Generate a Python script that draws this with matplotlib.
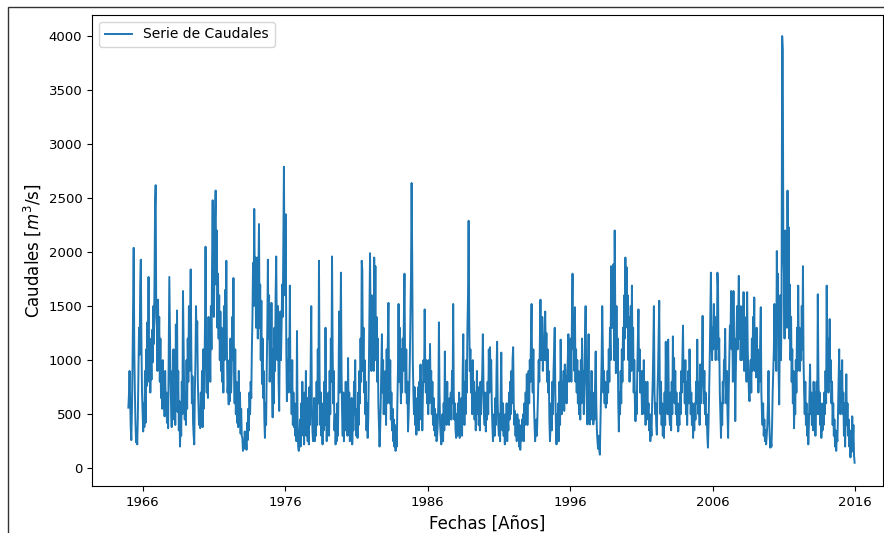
import numpy as np
import matplotlib
matplotlib.use("Agg")
import matplotlib.pyplot as plt
from matplotlib.patches import Rectangle

# Semi-monthly flow values (m3/s), one row per year
start_year = 1965
samples_per_year = 24

q_1965_1974 = [
    [560, 680, 900, 620, 380, 260, 520, 940, 1530, 2040, 1100, 700, 420, 240, 300, 220, 480, 900, 1300, 1050, 1700, 1930, 1200, 700],
    [520, 340, 600, 380, 900, 420, 1100, 760, 1350, 1000, 1770, 800, 1200, 700, 1050, 820, 1280, 980, 1500, 1150, 1700, 2430, 2620, 1400],
    [1300, 900, 1560, 1100, 1400, 800, 1200, 650, 900, 550, 1000, 620, 780, 480, 900, 560, 700, 420, 620, 370, 1100, 1770, 1300, 800],
    [600, 380, 900, 450, 1100, 600, 820, 400, 1330, 700, 1460, 520, 900, 350, 620, 200, 480, 300, 800, 500, 1640, 1200, 700, 450],
    [700, 400, 1000, 550, 1200, 800, 1500, 900, 1400, 1840, 1100, 600, 850, 420, 300, 220, 700, 1000, 1500, 1100, 1360, 800, 600, 400],
    [450, 370, 700, 420, 900, 380, 1100, 550, 800, 1300, 2050, 1200, 700, 1000, 650, 1400, 900, 1250, 800, 1500, 1100, 1900, 2480, 1600],
    [1400, 1800, 2300, 2570, 1700, 2200, 1300, 1800, 1200, 1600, 1000, 1450, 900, 1300, 800, 1200, 700, 1500, 1000, 1650, 1200, 1920, 1100, 700],
    [800, 590, 1000, 620, 1200, 700, 900, 1400, 1000, 1760, 900, 600, 1100, 500, 800, 420, 650, 380, 900, 450, 700, 320, 550, 300],
    [280, 160, 250, 180, 340, 200, 300, 170, 420, 260, 550, 350, 700, 500, 800, 650, 1100, 1400, 1900, 1500, 2400, 1700, 1950, 1300],
    [1500, 1950, 1200, 1800, 2260, 1300, 1700, 1000, 1550, 780, 1200, 650, 900, 450, 280, 600, 400, 900, 1300, 1930, 1200, 1600, 800, 1100],
]

q_1975_1984 = [
    [900, 1530, 800, 470, 1100, 600, 1300, 900, 1600, 1960, 1300, 1000, 1500, 800, 530, 1200, 1450, 1000, 1300, 1700, 1400, 2100, 2790, 1800],
    [1600, 2350, 1100, 620, 1000, 700, 1200, 900, 1690, 700, 900, 500, 1000, 400, 700, 380, 600, 300, 500, 250, 1270, 400, 200, 160],
    [250, 450, 200, 600, 300, 800, 350, 550, 220, 700, 400, 900, 300, 650, 250, 500, 220, 750, 400, 1000, 1500, 600, 350, 250],
    [300, 650, 250, 500, 300, 800, 400, 1100, 600, 1920, 900, 400, 700, 300, 500, 220, 600, 350, 800, 400, 1300, 500, 250, 400],
    [350, 700, 300, 900, 500, 1200, 800, 1960, 1100, 600, 900, 350, 500, 220, 400, 250, 600, 300, 800, 1450, 700, 1200, 1810, 900],
    [500, 300, 700, 250, 600, 350, 800, 400, 550, 300, 1020, 450, 700, 250, 500, 300, 650, 220, 450, 350, 800, 500, 1000, 400],
    [300, 550, 280, 700, 400, 900, 600, 1200, 800, 1920, 1830, 900, 1300, 700, 1000, 500, 800, 350, 600, 280, 450, 900, 1500, 1990],
    [1300, 900, 1600, 1100, 1500, 900, 1950, 1200, 1870, 1000, 1400, 800, 1200, 600, 400, 200, 350, 600, 900, 1240, 700, 1000, 500, 800],
    [500, 900, 400, 1100, 600, 1200, 1530, 800, 600, 1000, 450, 700, 350, 550, 250, 450, 200, 400, 160, 300, 200, 600, 900, 1520],
    [800, 1300, 900, 600, 1100, 700, 1200, 900, 1400, 1800, 1000, 700, 1100, 600, 800, 340, 500, 700, 1000, 1400, 1800, 2640, 1970, 1000],
]

q_1985_1994 = [
    [700, 500, 750, 400, 650, 310, 600, 450, 750, 350, 800, 500, 960, 450, 800, 350, 700, 1000, 800, 1470, 900, 700, 1000, 600],
    [800, 500, 1000, 600, 1150, 700, 900, 500, 800, 400, 650, 350, 550, 300, 500, 250, 300, 400, 600, 1350, 700, 400, 300, 220],
    [300, 500, 250, 600, 350, 1080, 500, 700, 400, 800, 450, 600, 400, 650, 550, 700, 450, 900, 600, 1520, 700, 450, 600, 350],
    [280, 500, 300, 600, 350, 700, 280, 550, 400, 650, 300, 900, 1240, 600, 400, 800, 500, 1000, 700, 1300, 1600, 2290, 1400, 900],
    [1100, 700, 900, 500, 1000, 600, 800, 450, 700, 350, 600, 900, 500, 750, 400, 600, 350, 800, 500, 700, 900, 1240, 800, 500],
    [400, 700, 340, 600, 450, 800, 500, 1100, 700, 1120, 840, 1000, 600, 400, 250, 350, 500, 300, 650, 400, 900, 1170, 600, 400],
    [300, 500, 250, 700, 1070, 500, 350, 600, 300, 450, 220, 500, 300, 600, 250, 450, 350, 700, 450, 800, 500, 900, 600, 1000],
    [1120, 600, 400, 530, 300, 465, 250, 500, 350, 450, 200, 400, 170, 350, 250, 450, 300, 500, 250, 600, 400, 700, 500, 870],
    [400, 700, 900, 600, 1000, 800, 1200, 1520, 900, 700, 1100, 600, 400, 250, 350, 450, 300, 500, 700, 1000, 800, 1200, 1560, 1000],
    [1100, 1400, 900, 1200, 1000, 1300, 1450, 1000, 1250, 800, 1100, 700, 900, 450, 250, 400, 600, 350, 800, 500, 900, 1100, 1300, 700],
]

q_1995_2004 = [
    [400, 220, 500, 300, 600, 250, 800, 400, 1190, 700, 500, 800, 600, 900, 530, 960, 700, 850, 600, 900, 1000, 1240, 800, 1000],
    [900, 1200, 800, 1400, 1800, 1100, 1300, 900, 1490, 800, 1100, 700, 1000, 600, 900, 500, 800, 450, 1000, 600, 1200, 700, 900, 500],
    [800, 1200, 1500, 900, 600, 405, 800, 1240, 600, 405, 700, 450, 900, 500, 700, 405, 600, 450, 800, 1080, 600, 350, 250, 180],
    [300, 180, 125, 400, 700, 1000, 1500, 1100, 700, 900, 600, 800, 560, 700, 600, 900, 700, 1100, 800, 1300, 1000, 1870, 1300, 1600],
    [1300, 1890, 1000, 2200, 1400, 880, 1500, 900, 1200, 600, 340, 700, 500, 900, 600, 1100, 800, 1300, 1000, 1600, 1200, 1950, 1400, 1860],
    [1300, 1600, 1000, 1400, 800, 1200, 1500, 900, 1690, 1000, 1300, 700, 1000, 600, 435, 700, 500, 900, 1200, 1470, 900, 1100, 700, 900],
    [800, 500, 900, 600, 1000, 500, 800, 400, 700, 450, 800, 500, 600, 350, 500, 250, 400, 300, 600, 800, 1100, 1500, 700, 500],
    [600, 400, 310, 700, 900, 1200, 1550, 700, 500, 800, 400, 600, 300, 500, 280, 700, 400, 1170, 600, 800, 500, 1190, 700, 500],
    [400, 700, 350, 800, 500, 1220, 700, 1020, 600, 900, 500, 700, 400, 600, 340, 500, 400, 700, 500, 900, 700, 1000, 1320, 800],
    [900, 600, 1000, 500, 800, 400, 700, 900, 600, 1100, 800, 500, 700, 400, 600, 280, 500, 350, 600, 450, 800, 600, 1190, 700],
]

q_2005_2015 = [
    [500, 800, 400, 960, 600, 800, 1000, 1410, 800, 600, 900, 500, 700, 400, 500, 300, 190, 400, 700, 1000, 1400, 1810, 1200, 1000],
    [1300, 1100, 1520, 1200, 1400, 1000, 1300, 1100, 1810, 1670, 1000, 1200, 700, 500, 280, 600, 400, 800, 600, 1000, 900, 1290, 800, 600],
    [900, 500, 280, 700, 1000, 1320, 1200, 1640, 1100, 1300, 800, 1640, 1000, 1200, 436, 900, 1200, 1500, 1100, 1400, 1780, 1200, 1500, 1000],
    [1300, 1000, 1500, 1100, 1630, 900, 1400, 1000, 1200, 800, 1630, 1100, 900, 700, 620, 800, 1000, 700, 1200, 900, 1400, 1100, 1580, 900],
    [1200, 840, 1300, 900, 1100, 700, 1000, 800, 1200, 1490, 700, 500, 400, 600, 300, 450, 250, 350, 220, 300, 400, 600, 900, 500],
    [300, 190, 250, 200, 400, 700, 900, 1100, 1520, 1000, 1300, 900, 2010, 1400, 1800, 900, 590, 1200, 1600, 1000, 1500, 4000, 3870, 2000],
    [1800, 1200, 2200, 1500, 2000, 1300, 2570, 1600, 2230, 1200, 1700, 1000, 1400, 800, 1100, 600, 900, 370, 700, 500, 1000, 700, 1300, 900],
    [1690, 1100, 1300, 900, 1200, 1000, 1500, 1100, 1870, 1000, 700, 500, 800, 400, 600, 300, 500, 220, 400, 700, 960, 500, 700, 400],
    [600, 350, 800, 400, 700, 300, 600, 800, 500, 1610, 900, 500, 700, 400, 600, 280, 500, 350, 600, 400, 700, 500, 900, 600],
    [1690, 900, 1200, 700, 1000, 1380, 800, 1000, 600, 800, 400, 600, 300, 450, 200, 350, 160, 300, 250, 500, 800, 1100, 700, 500],
    [900, 600, 1000, 500, 700, 300, 600, 200, 500, 870, 400, 600, 300, 450, 200, 350, 100, 300, 150, 480, 250, 400, 120, 50],
]

xtick_years = [1966, 1976, 1986, 1996, 2006, 2016]
ytick_values = [0, 500, 1000, 1500, 2000, 2500, 3000, 3500, 4000]

series = np.concatenate([np.asarray(block, dtype=float).ravel()
                         for block in (q_1965_1974, q_1975_1984, q_1985_1994,
                                       q_1995_2004, q_2005_2015)])
time_years = start_year + np.arange(series.size) / samples_per_year

W, H = 884, 533
fig = plt.figure(figsize=(W / 100, H / 100), dpi=100)
ax = fig.add_axes([92 / W, 47 / H, 791 / W, 471 / H])
ax.plot(time_years, series, color="#1f77b4", lw=1.4, label="Serie de Caudales")

ax.set_xlim(1962.45, 2017.95)
ax.set_ylim(-165, 4195)
ax.set_xticks(xtick_years)
ax.set_xticklabels([str(y) for y in xtick_years])
ax.set_yticks(ytick_values)
ax.tick_params(labelsize=9.5)
ax.set_xlabel("Fechas [Años]", fontsize=12)
ax.set_ylabel("Caudales [$m^3$/s]", fontsize=12)
ax.legend(loc="upper left", fontsize=10)

fig.add_artist(Rectangle((8 / W, -0.1), 1.2, (H - 7) / H + 0.1,
                         transform=fig.transFigure, fill=False,
                         edgecolor="#333333", lw=1.0))

fig.savefig("out.png", dpi=100)
